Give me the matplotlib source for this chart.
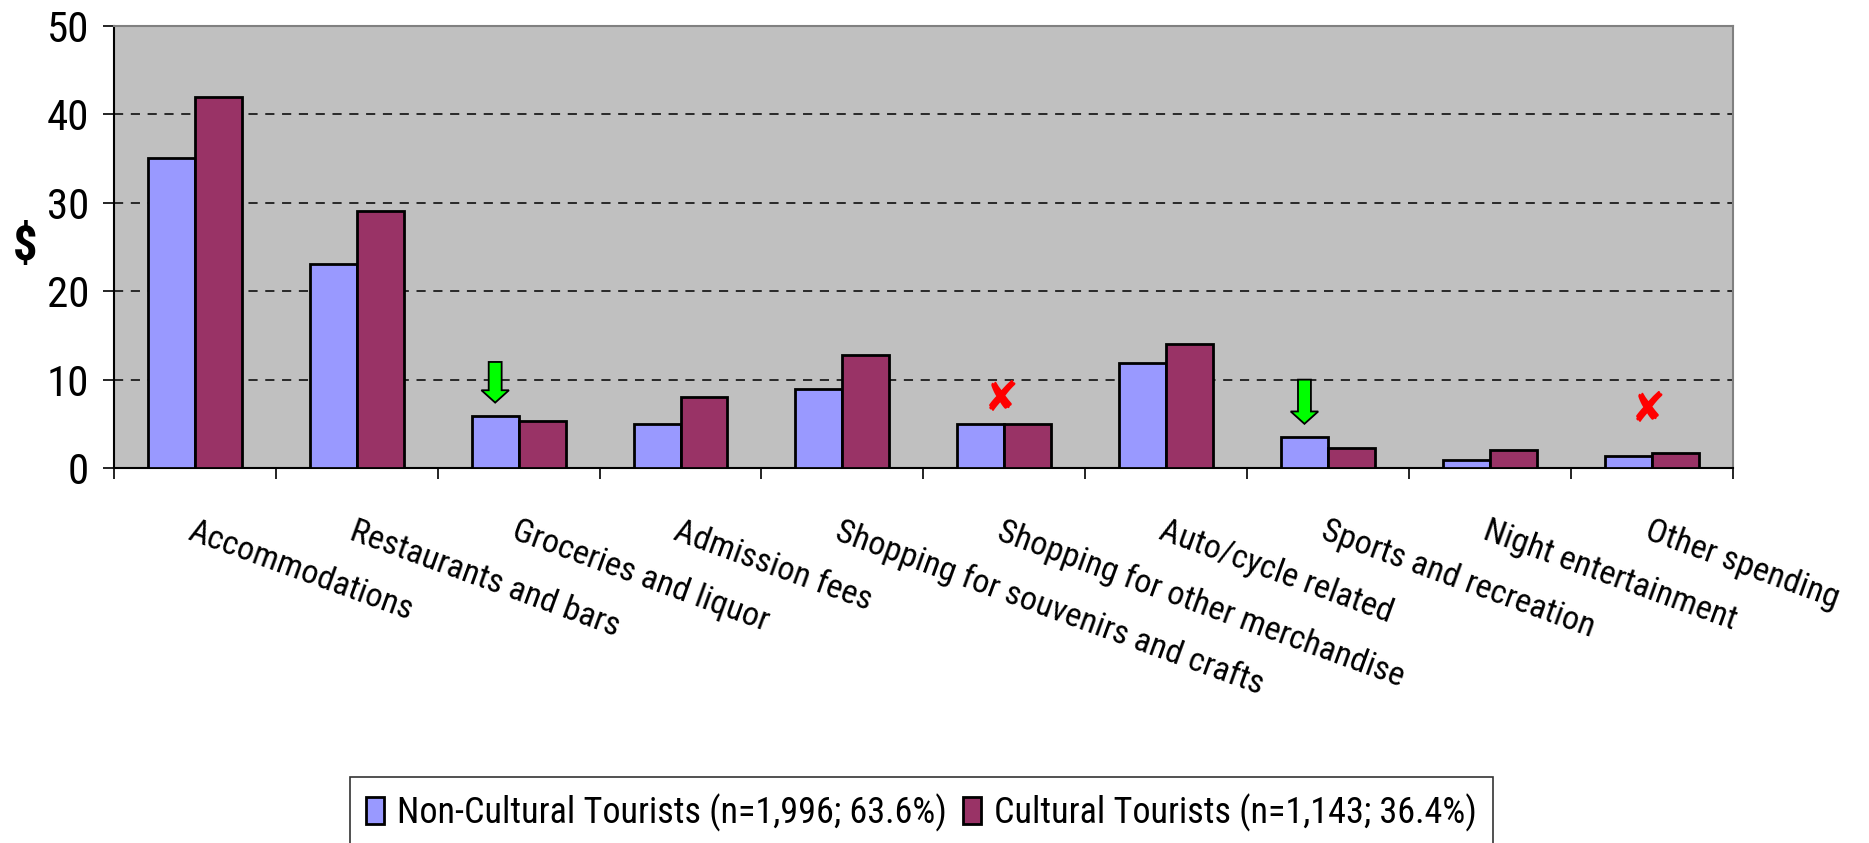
import matplotlib
matplotlib.use("Agg")
import matplotlib.pyplot as plt
from matplotlib.patches import FancyArrow
import numpy as np

categories = [
    "Accommodations",
    "Restaurants and bars",
    "Groceries and liquor",
    "Admission fees",
    "Shopping for souvenirs and crafts",
    "Shopping for other merchandise",
    "Auto/cycle related",
    "Sports and recreation",
    "Night entertainment",
    "Other spending",
]
non_cultural = [35.1, 23.1, 5.9, 5.0, 8.9, 5.0, 11.9, 3.5, 0.9, 1.4]
cultural = [42.0, 29.1, 5.3, 8.0, 12.8, 5.0, 14.0, 2.3, 2.0, 1.7]
series_labels = [
    "Non-Cultural Tourists (n=1,996; 63.6%)",
    "Cultural Tourists (n=1,143; 36.4%)",
]
# annotation marks: green arrows (over the non-cultural bar), red crosses
arrow_cats = [2, 7]
arrow_tops = [12.0, 10.0]
arrow_tips = [7.4, 5.0]
cross_cats = [5, 9]
cross_y = [7.8, 6.6]

FONT = ["Liberation Sans Narrow", "Roboto Condensed", "PT Sans Narrow",
        "Liberation Sans", "DejaVu Sans"]
plt.rcParams["font.family"] = FONT

fig = plt.figure(figsize=(18.69, 8.43), dpi=100)
ax = fig.add_axes([0.061, 0.4448, 0.866, 0.5243])
ax.set_facecolor("#C0C0C0")

x = np.arange(len(categories))
w = 0.29
ax.bar(x + 0.5 - w / 2, non_cultural, width=w, color="#9999FF",
       edgecolor="black", linewidth=2, label=series_labels[0], zorder=3)
ax.bar(x + 0.5 + w / 2, cultural, width=w, color="#993366",
       edgecolor="black", linewidth=2, label=series_labels[1], zorder=3)

ax.set_xlim(0, len(categories))
ax.set_ylim(0, 50)
ax.set_yticks(range(0, 51, 10))
ax.yaxis.grid(True, color="black", linestyle=(0, (6, 5)), linewidth=1.1, zorder=1)
ax.set_axisbelow(True)
ax.tick_params(axis="y", labelsize=31, length=8, width=1.2, pad=10)

ax.set_xticks(range(len(categories) + 1))
ax.set_xticklabels([])
ax.tick_params(axis="x", which="major", length=8, width=1.2)
ax.set_xticks(x + 0.5, minor=True)
ax.set_xticklabels(categories, minor=True, rotation=-20, ha="left",
                   va="top", rotation_mode="anchor", fontsize=24.5)
ax.tick_params(axis="x", which="minor", length=0, pad=34)

for s in ["top", "right"]:
    ax.spines[s].set_color("#808080")
    ax.spines[s].set_linewidth(1.5)
ax.spines["left"].set_linewidth(1.5)
ax.spines["bottom"].set_linewidth(1.5)

ax.set_ylabel("$", fontsize=35, fontweight="bold", rotation=0, va="center")
ax.yaxis.set_label_coords(-0.055, 0.5)

for c, top, tip in zip(arrow_cats, arrow_tops, arrow_tips):
    cx = c + 0.5 - w / 2
    ax.add_patch(FancyArrow(cx, top, 0, tip - top, width=0.08, head_width=0.17,
                            head_length=1.4, length_includes_head=True,
                            facecolor="#00FF00", edgecolor="black",
                            linewidth=1.3, zorder=5))

for c, yy in zip(cross_cats, cross_y):
    ax.text(c + 0.48, yy, "\u2718", color="red", fontsize=30, ha="center",
            va="center", family=["DejaVu Sans"], zorder=5)

leg = fig.legend(loc="upper left", bbox_to_anchor=(0.1873, 0.078), ncol=2,
                 fontsize=26, frameon=True, fancybox=False, borderpad=0.45,
                 handlelength=0.5, handleheight=0.75, handletextpad=0.35,
                 columnspacing=0.45, borderaxespad=0)
leg.get_frame().set_edgecolor("black")
leg.get_frame().set_linewidth(1.2)

fig.savefig("out.png", dpi=100)
